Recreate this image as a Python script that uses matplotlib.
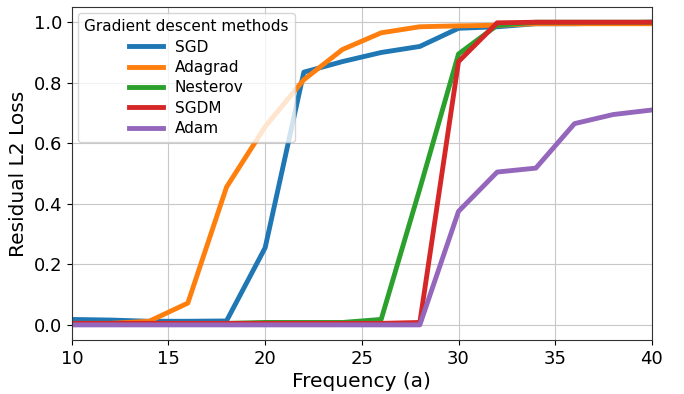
import matplotlib
matplotlib.use("Agg")
import matplotlib.pyplot as plt

freq = [10, 12, 14, 16, 18, 20, 22, 24, 26, 28, 30, 32, 34, 36, 38, 40]
sgd = [0.018, 0.016, 0.012, 0.012, 0.013, 0.255, 0.835, 0.87, 0.90, 0.92, 0.98, 0.985, 0.995, 0.995, 0.998, 1.0]
adagrad = [0.005, 0.005, 0.012, 0.072, 0.455, 0.655, 0.81, 0.91, 0.965, 0.985, 0.988, 0.99, 0.995, 0.995, 0.995, 0.995]
nesterov = [0.005, 0.005, 0.005, 0.005, 0.005, 0.008, 0.008, 0.008, 0.018, 0.45, 0.895, 0.99, 1.0, 1.0, 1.0, 1.0]
sgdm = [0.005, 0.005, 0.005, 0.005, 0.005, 0.005, 0.005, 0.005, 0.005, 0.008, 0.87, 0.998, 1.0, 1.0, 1.0, 1.0]
adam = [0.0, 0.0, 0.0, 0.0, 0.0, 0.0, 0.0, 0.0, 0.0, 0.0, 0.375, 0.505, 0.518, 0.665, 0.695, 0.71]

series = [("SGD", sgd), ("Adagrad", adagrad), ("Nesterov", nesterov), ("SGDM", sgdm), ("Adam", adam)]

fig, ax = plt.subplots(figsize=(6.84, 3.94), dpi=100)
for name, vals in series:
    ax.plot(freq, vals, lw=3.5, label=name)
ax.set_xlim(10, 40)
ax.grid(True, color="#c8c8c8")
ax.tick_params(labelsize=13)
for s in ax.spines.values():
    s.set_color("#333333")
ax.set_xlabel("Frequency (a)", fontsize=14.5, labelpad=3)
ax.set_ylabel("Residual L2 Loss", fontsize=14.5)
leg = ax.legend(title="Gradient descent methods", fontsize=11, title_fontsize=11,
                loc="upper left", labelspacing=0.35, handlelength=2.2,
                borderaxespad=0.4)
fig.subplots_adjust(left=0.105, right=0.953, top=0.982, bottom=0.137)
fig.savefig("out.png", dpi=100)
